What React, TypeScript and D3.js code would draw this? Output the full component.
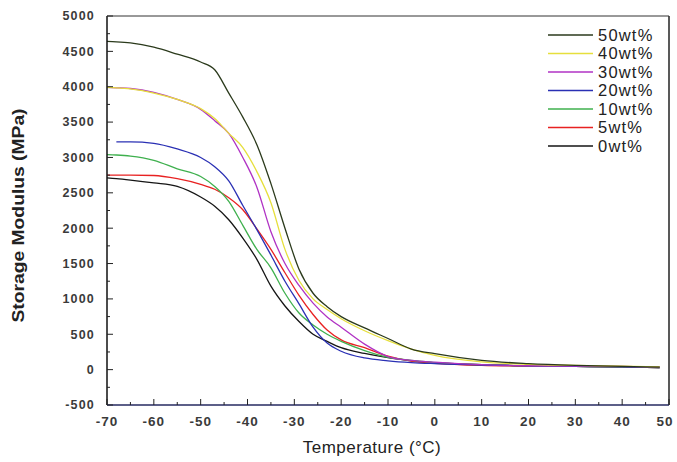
import { useMemo } from "react";
import * as d3 from "d3";

const temps = [-70, -68, -65, -60, -55, -50, -47, -44, -41, -38, -35, -32, -29, -26, -23, -20, -15, -10, -5, 0, 10, 20, 30, 40, 48];

const wt50 = [4640, 4635, 4620, 4560, 4460, 4350, 4240, 3910, 3570, 3180, 2630, 2000, 1420, 1080, 890, 750, 590, 440, 290, 225, 130, 85, 60, 45, 35];
const wt40 = [3990, 3985, 3970, 3910, 3820, 3690, 3550, 3340, 3140, 2800, 2360, 1700, 1260, 1000, 850, 720, 550, 410, 290, 200, 110, 75, 60, 50, 40];
const wt30 = [3990, 3985, 3975, 3920, 3820, 3680, 3520, 3340, 3000, 2580, 1950, 1500, 1190, 940, 745, 600, 360, 185, 130, 105, 70, 55, 50, 45, 35];
const wt20 = [null, 3220, 3220, 3200, 3120, 3000, 2870, 2670, 2320, 1980, 1620, 1250, 930, 600, 375, 260, 165, 125, 100, 85, 65, 55, 45, 40, 30];
const wt10 = [3040, 3035, 3020, 2960, 2840, 2730, 2590, 2380, 2040, 1700, 1440, 1080, 800, 630, 500, 400, 270, 175, 130, 100, 70, 55, 45, 40, 30];
const wt5 = [2750, 2750, 2750, 2745, 2700, 2620, 2550, 2430, 2260, 1990, 1700, 1370, 1050, 780, 560, 420, 310, 190, 120, 90, 60, 50, 45, 40, 30];
const wt0 = [2710, 2700, 2680, 2640, 2590, 2440, 2310, 2120, 1860, 1560, 1180, 900, 680, 500, 400, 310, 230, 170, 125, 100, 70, 55, 45, 40, 30];

const seriesNames = ["50wt%", "40wt%", "30wt%", "20wt%", "10wt%", "5wt%", "0wt%"];
const seriesValues = [wt50, wt40, wt30, wt20, wt10, wt5, wt0];
const seriesColors = ["#2b3a1c", "#e6df3c", "#b032c4", "#2a30b4", "#3fb04e", "#e82222", "#151515"];

const xTicks = [-70, -60, -50, -40, -30, -20, -10, 0, 10, 20, 30, 40, 50];
const yTicks = [-500, 0, 500, 1000, 1500, 2000, 2500, 3000, 3500, 4000, 4500, 5000];

export default function App() {
  const width = 677;
  const height = 462;
  const plot = { left: 107, right: 669, top: 16, bottom: 405 };
  const font = "'Liberation Sans', Arial, sans-serif";

  const x = d3.scaleLinear().domain([-70, 50]).range([plot.left, plot.right]);
  const y = d3.scaleLinear().domain([-500, 5000]).range([plot.bottom, plot.top]);

  const lines = useMemo(() => {
    const line = d3
      .line<[number, number | null]>()
      .defined((d) => d[1] != null)
      .x((d) => x(d[0]))
      .y((d) => y(d[1] as number))
      .curve(d3.curveMonotoneX);
    return seriesValues.map((vals, i) => ({
      name: seriesNames[i],
      color: seriesColors[i],
      d: line(temps.map((t, j) => [t, vals[j]] as [number, number | null])) || "",
    }));
  }, []);

  const xMinor = d3.range(-65, 50, 10);
  const yMinor = d3.range(-250, 5000, 500);

  return (
    <svg
      width={width}
      height={height}
      style={{ position: "absolute", left: 0, top: 0, background: "#fff" }}
      fontFamily={font}
    >
      <rect x={0} y={0} width={width} height={height} fill="#fff" />

      {lines
        .slice()
        .reverse()
        .map((s) => (
          <path key={s.name} d={s.d} fill="none" stroke={s.color} strokeWidth={1.3} />
        ))}

      {/* frame */}
      <line x1={plot.left} x2={plot.left} y1={plot.top} y2={plot.bottom} stroke="#111" strokeWidth={1.5} />
      <line x1={plot.right} x2={plot.right} y1={plot.top} y2={plot.bottom} stroke="#222" strokeWidth={1.5} />
      <line x1={plot.left} x2={plot.right} y1={plot.top} y2={plot.top} stroke="#333" strokeWidth={1} />
      <line x1={plot.left} x2={plot.right} y1={plot.bottom} y2={plot.bottom} stroke="#262a60" strokeWidth={1.5} />

      {xTicks.map((t) => (
        <g key={t}>
          <line x1={x(t)} x2={x(t)} y1={plot.bottom} y2={plot.bottom - 6} stroke="#222" />
          <text
            x={Math.min(x(t), width - 12)}
            y={426}
            textAnchor="middle"
            fontSize={13.5}
            fontWeight="bold"
            letterSpacing={1}
            fill="#3a3a3a"
          >
            {t}
          </text>
        </g>
      ))}
      {xMinor.map((t) => (
        <line key={t} x1={x(t)} x2={x(t)} y1={plot.bottom} y2={plot.bottom - 3} stroke="#222" />
      ))}

      {yTicks.map((v) => (
        <g key={v}>
          <line x1={plot.left} x2={plot.left + 6} y1={y(v)} y2={y(v)} stroke="#222" />
          <text x={95} y={y(v)} dy="0.35em" textAnchor="end" fontSize={12.5} fontWeight="bold" letterSpacing={1.2} fill="#3a3a3a">
            {v}
          </text>
        </g>
      ))}
      {yMinor.map((v) => (
        <line key={v} x1={plot.left} x2={plot.left + 3} y1={y(v)} y2={y(v)} stroke="#222" />
      ))}

      <text x={372} y={453} textAnchor="middle" fontSize={17} letterSpacing={0.5} fill="#222">
        Temperature (°C)
      </text>
      <text
        transform={`translate(24,${(plot.top + plot.bottom) / 2 + 5}) rotate(-90)`}
        textAnchor="middle"
        fontSize={16}
        fontWeight="bold"
        fill="#222"
        textLength={214}
        lengthAdjust="spacingAndGlyphs"
      >
        Storage Modulus (MPa)
      </text>

      {lines.map((s, i) => {
        const ly = 35 + i * 18.5;
        return (
          <g key={s.name}>
            <line x1={548} x2={593} y1={ly} y2={ly} stroke={s.color} strokeWidth={1.5} />
            <text x={598} y={ly} dy="0.36em" fontSize={16.5} letterSpacing={1.2} fill="#222">
              {s.name}
            </text>
          </g>
        );
      })}
    </svg>
  );
}
